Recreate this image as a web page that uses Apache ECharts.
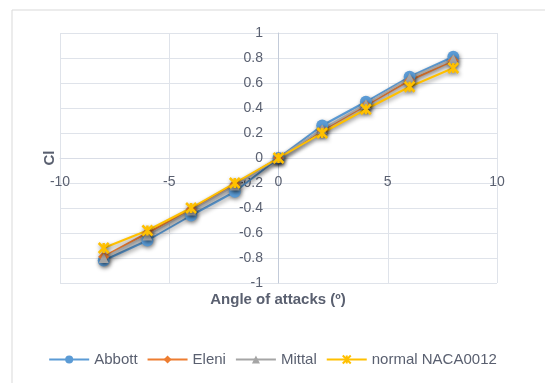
<!DOCTYPE html>
<html><head><meta charset="utf-8">
<script src="https://cdn.jsdelivr.net/npm/echarts@6/dist/echarts.min.js"></script>
<style>html,body{margin:0;padding:0;background:#fff}#c{width:545px;height:383px}</style>
</head><body><div id="c"></div>
<script>
const angles = [-8, -6, -4, -2, 0, 2, 4, 6, 8];
const abbott = [-0.82, -0.66, -0.46, -0.27, 0, 0.26, 0.45, 0.65, 0.81];
const eleni = [-0.79, -0.60, -0.41, -0.21, 0, 0.22, 0.42, 0.62, 0.78];
const mittal = [-0.80, -0.62, -0.42, -0.22, 0, 0.23, 0.43, 0.64, 0.79];
const naca = [-0.72, -0.58, -0.40, -0.20, 0, 0.20, 0.39, 0.57, 0.72];
const seriesNames = ['Abbott', 'Eleni', 'Mittal', 'normal NACA0012'];
const xTitle = 'Angle of attacks (º)';
const yTitle = 'Cl';

const pair = arr => angles.map((a, i) => [a, arr[i]]);
const shadow = {shadowColor: 'rgba(0,0,0,0.45)', shadowBlur: 4, shadowOffsetX: 1, shadowOffsetY: 2};
const txt = '#5a6070';
const font = 'Liberation Sans';

const mk = (name, data, color, symbol, size) => ({
  name, type: 'line', data: pair(data), symbol, symbolSize: size,
  lineStyle: Object.assign({color, width: 2}, shadow),
  itemStyle: Object.assign({color, borderColor: color, borderWidth: symbol.startsWith('path') ? 2.5 : 0}, shadow),
  emphasis: {disabled: true}, animation: false
});

const chart = echarts.init(document.getElementById('c'));
chart.setOption({
  animation: false,
  graphic: [
    {type: 'rect', shape: {x: 12, y: 10, width: 560, height: 400}, style: {fill: '#fff', stroke: '#d9d9d9', lineWidth: 1}, z: -10},
    {type: 'text', x: 50, y: 158, rotation: Math.PI / 2, style: {text: yTitle, fill: txt, font: 'bold 15px ' + font, align: 'center', verticalAlign: 'middle'}},
    {type: 'text', x: 278, y: 300, style: {text: xTitle, fill: txt, font: 'bold 15px ' + font, align: 'center', verticalAlign: 'middle'}}
  ],
  grid: {left: 60, right: 48, top: 33, bottom: 100},
  legend: {
    data: seriesNames, top: 347, left: 'center', itemWidth: 40, itemHeight: 10, itemGap: 9,
    textStyle: {color: txt, fontSize: 15, fontFamily: font}
  },
  xAxis: {
    type: 'value', min: -10, max: 10, interval: 5, position: 'bottom', offset: -125,
    axisLine: {show: true, onZero: false, lineStyle: {color: '#d9dde6'}},
    axisTick: {show: false},
    axisLabel: {color: txt, fontSize: 14, fontFamily: font, margin: 17},
    splitLine: {lineStyle: {color: '#dfe3ea'}}
  },
  yAxis: {
    type: 'value', min: -1, max: 1, interval: 0.2, position: 'left', offset: -218,
    axisLine: {show: true, onZero: false, lineStyle: {color: '#c3cbd9'}},
    axisTick: {show: false},
    axisLabel: {color: txt, fontSize: 14, fontFamily: font, margin: 15, formatter: v => String(Math.round(v * 10) / 10)},
    splitLine: {lineStyle: {color: '#dfe3ea'}}
  },
  series: [
    mk(seriesNames[0], abbott, '#5b9bd5', 'circle', 12),
    mk(seriesNames[1], eleni, '#ed7d31', 'diamond', 11),
    mk(seriesNames[2], mittal, '#a5a5a5', 'triangle', 10),
    mk(seriesNames[3], naca, '#ffc000', 'path://M0,0L10,10M10,0L0,10M5,0L5,10', 10)
  ]
});
</script></body></html>
